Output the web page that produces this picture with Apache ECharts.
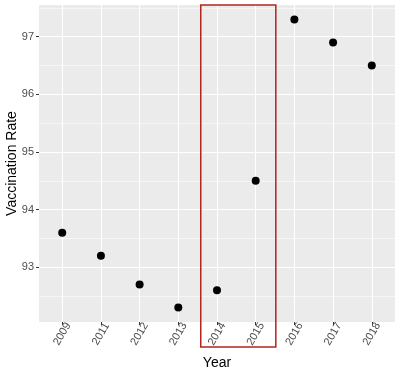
<!DOCTYPE html>
<html>
<head>
<meta charset="utf-8">
<script src="https://cdn.jsdelivr.net/npm/echarts@6/dist/echarts.min.js"></script>
<style>
  html, body { margin: 0; padding: 0; background: #fff; }
  #chart { width: 400px; height: 376px; }
</style>
</head>
<body>
<div id="chart"></div>
<script>
// data
const years = ['2009', '2011', '2012', '2013', '2014', '2015', '2016', '2017', '2018'];
const rates = [93.6, 93.2, 92.7, 92.3, 92.6, 94.5, 97.3, 96.9, 96.5];
const yTicks = [93, 94, 95, 96, 97];
const yMinor = [92.5, 93.5, 94.5, 95.5, 96.5, 97.5];

const chart = echarts.init(document.getElementById('chart'));
const idx = years.map((_, i) => i);

const labelGray = '#4d4d4d';
const tickGray = '#333333';

const option = {
  animation: false,
  grid: {
    left: 39, right: 5, top: 5, bottom: 54,
    outerBoundsMode: 'none', containLabel: false,
    show: true, backgroundColor: '#ebebeb', borderWidth: 0
  },
  xAxis: [{
    type: 'value', min: -0.6, max: 8.6,
    name: 'Year', nameLocation: 'middle', nameGap: 34, nameMoveOverlap: false,
    nameTextStyle: { fontSize: 14, color: '#000', fontFamily: 'Liberation Sans' },
    axisLine: { show: false, onZero: false },
    axisTick: { show: true, length: 3, customValues: idx, lineStyle: { color: tickGray } },
    axisLabel: {
      customValues: idx, rotate: 60, margin: 12, fontSize: 11, color: labelGray,
      align: 'center', verticalAlign: 'middle',
      fontFamily: 'Liberation Sans',
      formatter: v => years[Math.round(v)]
    },
    splitLine: { show: true, lineStyle: { color: '#fff', width: 1.1 } }
  }],
  yAxis: [{
    type: 'value', min: 92.05, max: 97.55,
    name: 'Vaccination Rate', nameLocation: 'middle', nameGap: 20, nameMoveOverlap: false,
    nameTextStyle: { fontSize: 14, color: '#000', fontFamily: 'Liberation Sans' },
    axisLine: { show: false, onZero: false },
    axisTick: { show: true, length: 3, customValues: yTicks, lineStyle: { color: tickGray } },
    axisLabel: { customValues: yTicks, margin: 5, fontSize: 11, color: labelGray, fontFamily: 'Liberation Sans' },
    splitLine: { show: true, lineStyle: { color: '#fff', width: 1.1 } }
  }, {
    type: 'value', min: 92.05, max: 97.55, position: 'left',
    axisLine: { show: false, onZero: false },
    axisTick: { show: false, customValues: yMinor },
    axisLabel: { show: false, customValues: yMinor },
    splitLine: { show: true, lineStyle: { color: '#fff', width: 0.55 } }
  }],
  series: [{
    type: 'scatter',
    data: rates.map((r, i) => [i, r]),
    symbolSize: 8,
    itemStyle: { color: '#000', opacity: 1 }
  }]
};
chart.setOption(option);

// red highlight box round 2014-2015
const p0 = chart.convertToPixel({ xAxisIndex: 0, yAxisIndex: 0 }, [3.58, 97.55]);
const p1 = chart.convertToPixel({ xAxisIndex: 0, yAxisIndex: 0 }, [5.52, 97.55]);
chart.setOption({
  graphic: [{
    type: 'rect',
    shape: { x: p0[0], y: p0[1], width: p1[0] - p0[0], height: 347 - p0[1] },
    style: { fill: 'none', stroke: '#b2261e', lineWidth: 1.5 },
    z: 100
  }]
});
</script>
</body>
</html>
